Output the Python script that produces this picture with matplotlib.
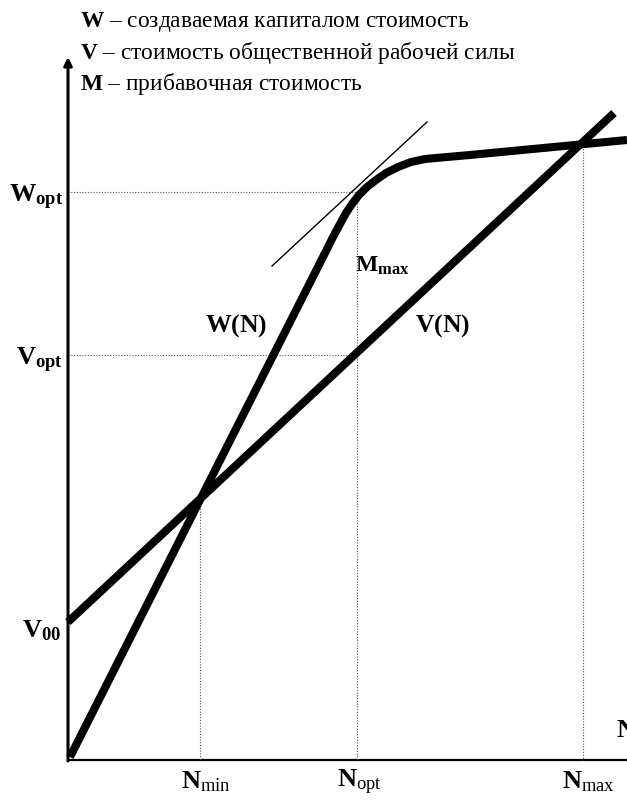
import numpy as np
import matplotlib.pyplot as plt

# schematic, coordinates in picture units (0..627 x 0..801, y down)
W_x = [70, 200, 325, 333, 340, 346, 352, 359, 367, 376, 386, 398, 411, 425, 447, 470, 627]
W_y = [757, 500, 253, 237, 224, 213, 204, 195, 187, 180, 173, 167, 162, 159, 157, 155, 140]
V_x = [68, 614]
V_y = [622, 113]
tangent_x = [272, 427]
tangent_y = [266, 122]

N_min, N_opt, N_max = 200, 357, 583
W_opt, V_opt = 192, 355
V_min_pt, V_max_pt = 500, 143
origin_x, origin_y = 68, 760

legend_lines = [("W", "создаваемая капиталом стоимость"),
                ("V", "стоимость общественной рабочей силы"),
                ("M", "прибавочная стоимость")]

plt.rcParams['font.family'] = ['Liberation Serif', 'DejaVu Serif']
plt.rcParams['mathtext.fontset'] = 'custom'
plt.rcParams['mathtext.rm'] = 'Liberation Serif'
plt.rcParams['mathtext.it'] = 'Liberation Serif:italic'
plt.rcParams['mathtext.bf'] = 'Liberation Serif:bold'

fig = plt.figure(figsize=(6.27, 8.01), dpi=100)
ax = fig.add_axes([0, 0, 1, 1])
ax.set_xlim(0, 627)
ax.set_ylim(801, 0)
ax.axis('off')

# axes
ax.annotate('', xy=(origin_x, 57), xytext=(origin_x, origin_y + 1),
            arrowprops=dict(arrowstyle='-|>', lw=2.2, color='black',
                            mutation_scale=12, shrinkA=0, shrinkB=0))
ax.plot([origin_x, 627], [origin_y, origin_y], color='black', lw=1.6)

# dotted guides
dot = dict(color='#555555', lw=0.8, ls=(0, (1, 1.5)))
ax.plot([origin_x, N_opt], [W_opt, W_opt], **dot)
ax.plot([origin_x, N_opt], [V_opt, V_opt], **dot)
ax.plot([N_min, N_min], [V_min_pt, origin_y], **dot)
ax.plot([N_opt, N_opt], [W_opt, origin_y], **dot)
ax.plot([N_max, N_max], [V_max_pt, origin_y], **dot)

# curves
ax.plot(W_x, W_y, color='black', lw=5.8, solid_capstyle='butt', solid_joinstyle='round')
ax.plot(V_x, V_y, color='black', lw=5.8, solid_capstyle='butt')
ax.plot(tangent_x, tangent_y, color='black', lw=1.0)

# header
for i, (sym, txt) in enumerate(legend_lines):
    ax.text(80, 22 + 31 * i, r'$\mathbf{%s}$ – %s' % (sym, txt), fontsize=16.8,
            va='center', ha='left')

lab = dict(fontsize=19, va='center')
ax.text(63, 197, r'$\mathbf{W}_{\mathbf{opt}}$', ha='right', **lab)
ax.text(63, 360, r'$\mathbf{V}_{\mathbf{opt}}$', ha='right', **lab)
ax.text(61, 631, r'$\mathbf{V}_{\mathbf{00}}$', ha='right', **lab)
ax.text(N_min + 6, 782, r'$\mathbf{N}_{\mathrm{min}}$', ha='center', **lab)
ax.text(N_opt + 2, 782, r'$\mathbf{N}_{\mathrm{opt}}$', ha='center', **lab)
ax.text(N_max + 5, 782, r'$\mathbf{N}_{\mathrm{max}}$', ha='center', **lab)
ax.text(616, 731, r'$\mathbf{N}$', ha='left', fontsize=19, va='center')
ax.text(236, 326, r'$\mathbf{W(N)}$', ha='center', fontsize=18.5, va='center')
ax.text(443, 326, r'$\mathbf{V(N)}$', ha='center', fontsize=18.5, va='center')
ax.text(355, 266, r'$\mathbf{M}_{\mathbf{max}}$', ha='left', fontsize=17, va='center')

fig.savefig('out.png', dpi=100)
